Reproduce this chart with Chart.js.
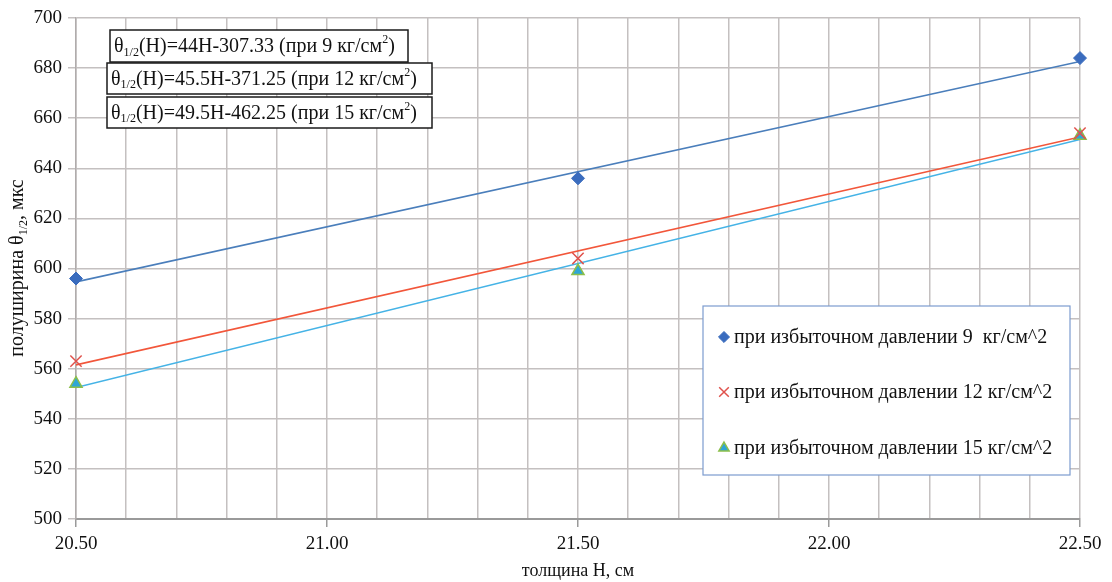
<!DOCTYPE html>
<html>
<head>
<meta charset="utf-8">
<script src="https://cdn.jsdelivr.net/npm/chart.js@4/dist/chart.umd.min.js"></script>
<style>
  html, body { margin: 0; padding: 0; background: #fff; }
  #wrap { width: 1112px; height: 582px; position: relative; }
</style>
</head>
<body>
<div id="wrap"><canvas id="chart"></canvas></div>
<script>
// --- data ---
const thickness = [20.5, 21.5, 22.5];          // толщина H, см
const halfWidth9 = [596, 636, 684];             // при 9 кг/см^2
const halfWidth12 = [563, 604, 654];            // при 12 кг/см^2
const halfWidth15 = [554, 599, 653];            // при 15 кг/см^2
const pressures = [9, 12, 15];
const trendSlopes = [44, 45.5, 49.5];
const trendIntercepts = [-307.33, -371.25, -462.25];
const legendLabels = [
  'при избыточном давлении 9  кг/см^2',
  'при избыточном давлении 12 кг/см^2',
  'при избыточном давлении 15 кг/см^2'
];
const xMin = 20.5, xMax = 22.5, xGridStep = 0.1, xLabelStep = 0.5;
const yMin = 500, yMax = 700, yStep = 20;

const FONT = '"Liberation Serif", "Times New Roman", serif';
const TXT = '#111';

const markerStyles = [
  { pointStyle: 'rectRot', radius: 6.5, fill: '#3a6cbe', border: '#3a6cbe', bw: 1 },
  { pointStyle: 'crossRot', radius: 8, fill: '#e0524c', border: '#e0524c', bw: 1.5 },
  { pointStyle: 'triangle', radius: 7, fill: '#2ea6d6', border: '#8cbf4a', bw: 1.5 }
];
const trendColors = ['#4a7ebb', '#f2563a', '#45b3e6'];

const seriesValues = [halfWidth9, halfWidth12, halfWidth15];

const toPoints = (vals) => thickness.map((h, i) => ({ x: h, y: vals[i] }));
const trendPoints = (k) => [xMin, xMax].map(h => ({ x: h, y: trendSlopes[k] * h + trendIntercepts[k] }));

const datasets = [];
seriesValues.forEach((vals, k) => {
  const m = markerStyles[k];
  datasets.push({
    label: legendLabels[k],
    data: toPoints(vals),
    showLine: false,
    clip: false,
    pointStyle: m.pointStyle,
    pointRadius: m.radius,
    pointHoverRadius: m.radius,
    pointBackgroundColor: m.fill,
    pointBorderColor: m.border,
    pointBorderWidth: m.bw,
    order: 0
  });
});
seriesValues.forEach((vals, k) => {
  datasets.push({
    label: 'trend' + k,
    data: trendPoints(k),
    showLine: true,
    borderColor: trendColors[k],
    borderWidth: 1.6,
    pointRadius: 0,
    fill: false,
    order: 1
  });
});

const isMajor = (v) => Math.abs(v / xLabelStep - Math.round(v / xLabelStep)) < 1e-6;

// draws text made of pieces, some of them sub/superscript
function drawRich(ctx, parts, x, y, size) {
  let cx = x;
  parts.forEach(p => {
    const s = p.sub || p.sup ? Math.round(size * 0.62) : size;
    ctx.font = s + 'px ' + FONT;
    const dy = p.sub ? size * 0.28 : (p.sup ? -size * 0.35 : 0);
    ctx.fillText(p.t, cx, y + dy);
    cx += ctx.measureText(p.t).width;
  });
  return cx - x;
}

const decorPlugin = {
  id: 'decor',
  afterDatasetsDraw(chart) {
    const ctx = chart.ctx;
    ctx.save();
    ctx.textBaseline = 'middle';
    ctx.textAlign = 'left';
    ctx.fillStyle = TXT;

    // y axis title
    ctx.save();
    ctx.translate(18, 268);
    ctx.rotate(-Math.PI / 2);
    const yParts = [{ t: 'полуширина θ' }, { t: '1/2', sub: true }, { t: ', мкс' }];
    let w = 0;
    yParts.forEach(p => { ctx.font = (p.sub ? 12 : 20) + 'px ' + FONT; w += ctx.measureText(p.t).width; });
    drawRich(ctx, yParts, -w / 2, 0, 20);
    ctx.restore();

    // equation boxes
    const boxes = [
      { x: 110, y: 30, w: 298, h: 32 },
      { x: 107, y: 63, w: 325, h: 31 },
      { x: 107, y: 97, w: 325, h: 31 }
    ];
    boxes.forEach((b, k) => {
      ctx.fillStyle = '#fff';
      ctx.fillRect(b.x, b.y, b.w, b.h);
      ctx.strokeStyle = '#1a1a1a';
      ctx.lineWidth = 1.5;
      ctx.strokeRect(b.x, b.y, b.w, b.h);
      ctx.fillStyle = TXT;
      const icpt = trendIntercepts[k];
      const parts = [
        { t: 'θ' }, { t: '1/2', sub: true },
        { t: '(H)=' + trendSlopes[k] + 'H' + (icpt < 0 ? '-' : '+') + Math.abs(icpt) + ' (при ' + pressures[k] + ' кг/см' },
        { t: '2', sup: true }, { t: ')' }
      ];
      drawRich(ctx, parts, b.x + 4, b.y + b.h / 2 + 1, 20);
    });

    // legend box
    const lx = 703, ly = 306, lw = 367, lh = 169;
    ctx.fillStyle = '#fff';
    ctx.fillRect(lx, ly, lw, lh);
    ctx.strokeStyle = '#7c9ccf';
    ctx.lineWidth = 1.2;
    ctx.strokeRect(lx, ly, lw, lh);
    const rows = [337, 392, 448];
    legendLabels.forEach((lab, k) => {
      const m = markerStyles[k];
      ctx.fillStyle = m.fill;
      ctx.strokeStyle = m.border;
      ctx.lineWidth = m.bw;
      Chart.helpers.drawPoint(ctx, { pointStyle: m.pointStyle, radius: m.radius * 0.85, rotation: 0, borderWidth: m.bw }, 724, rows[k]);
      ctx.fillStyle = TXT;
      ctx.font = '20px ' + FONT;
      ctx.fillText(lab, 734, rows[k] + 1);
    });
    ctx.restore();
  }
};

new Chart(document.getElementById('chart'), {
  type: 'scatter',
  data: { datasets },
  plugins: [decorPlugin],
  options: {
    responsive: true,
    maintainAspectRatio: false,
    animation: false,
    layout: { padding: { top: 18, right: 32, left: 0, bottom: 0 } },
    plugins: { legend: { display: false }, tooltip: { enabled: false } },
    scales: {
      x: {
        type: 'linear',
        min: xMin, max: xMax,
        afterFit: (s) => { s.height = 63; },
        ticks: {
          stepSize: xGridStep,
          autoSkip: false,
          maxRotation: 0,
          padding: 6,
          color: TXT,
          font: { family: FONT, size: 19 },
          callback: (v) => isMajor(v) ? v.toFixed(2) : ''
        },
        grid: {
          color: '#c4c0c0',
          lineWidth: 1.5,
          tickLength: 8,
          tickColor: (c) => (c.tick && isMajor(c.tick.value)) ? '#9a9a9a' : 'rgba(0,0,0,0)',
          tickWidth: 1.5
        },
        border: { color: '#9a9a9a', width: 2 },
        title: {
          display: true,
          text: 'толщина H, см',
          color: TXT,
          font: { family: FONT, size: 18 },
          padding: { top: 2, bottom: 0 }
        }
      },
      y: {
        min: yMin, max: yMax,
        afterFit: (s) => { s.width = 76; },
        ticks: {
          stepSize: yStep,
          padding: 6,
          color: TXT,
          font: { family: FONT, size: 19 }
        },
        grid: {
          color: '#c4c0c0',
          lineWidth: 1.5,
          tickLength: 8,
          tickColor: '#c4c0c0'
        },
        border: { color: '#b0acac', width: 1.5 }
      }
    }
  }
});
</script>
</body>
</html>
